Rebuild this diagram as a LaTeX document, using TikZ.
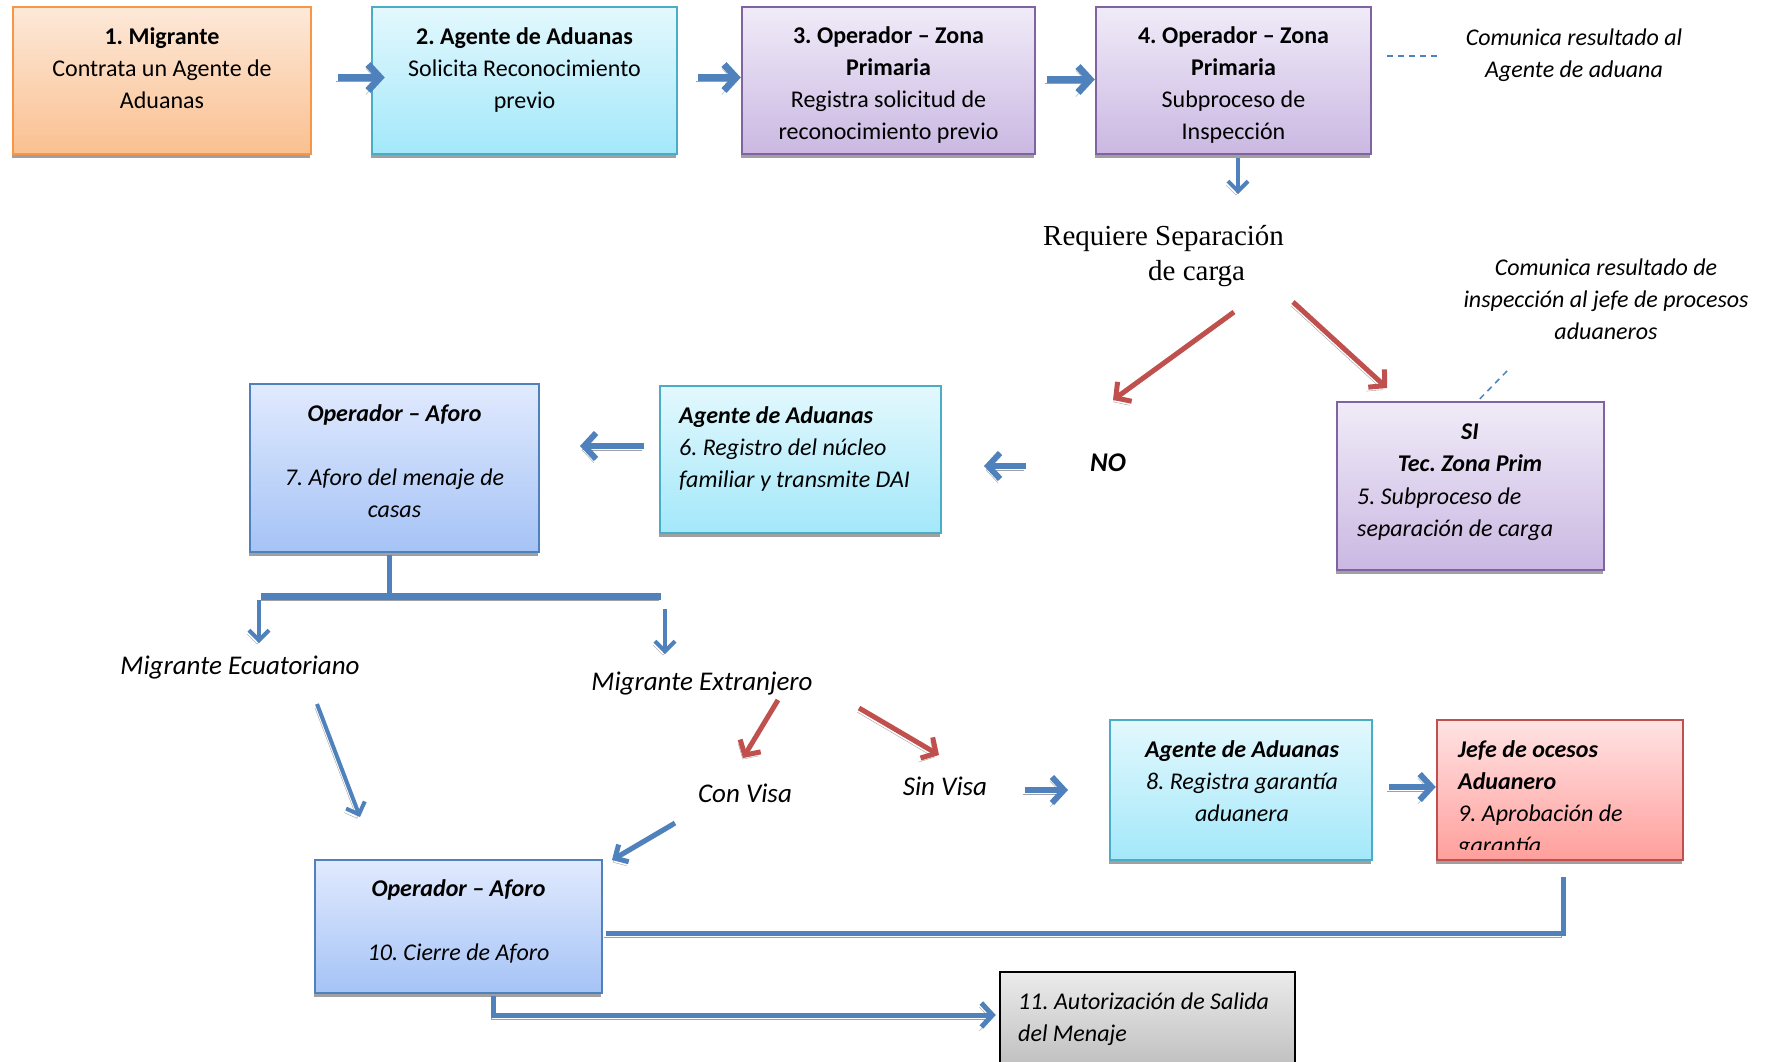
\documentclass[tikz,border=0pt]{standalone}
\usepackage{fontspec}
\setmainfont{Carlito}
\newfontfamily\timesfont{Liberation Serif}
\usetikzlibrary{arrows.meta,shadows,calc}
\frenchspacing
\definecolor{obord}{HTML}{F79646}\definecolor{otop}{HTML}{FDE9D9}\definecolor{obot}{HTML}{FAC090}
\definecolor{cbord}{HTML}{4BACC6}\definecolor{ctop}{HTML}{E3F8FD}\definecolor{cbot}{HTML}{A3E8FA}
\definecolor{pbord}{HTML}{8064A2}\definecolor{ptop}{HTML}{F0EBF8}\definecolor{pbot}{HTML}{CAB8E2}
\definecolor{bbord}{HTML}{4F81BD}\definecolor{btop}{HTML}{E1EAFE}\definecolor{bbot}{HTML}{A5C3F6}
\definecolor{rbord}{HTML}{C0504D}\definecolor{rtop}{HTML}{FFE3E3}\definecolor{rbot}{HTML}{FF9F9C}
\definecolor{gtop}{HTML}{EBEBEB}\definecolor{gbot}{HTML}{BEBEBE}
\definecolor{ablue}{HTML}{4F81BD}\definecolor{ared}{HTML}{C0504D}\definecolor{shadowgray}{HTML}{A0A0A0}
\tikzset{
 box/.style={rectangle, draw, line width=2.5pt, inner sep=0pt,
   drop shadow={shadow xshift=-1pt, shadow yshift=-4pt, fill=shadowgray, opacity=1}},
 obox/.style={box, draw=obord, top color=otop, bottom color=obot},
 cbox/.style={box, draw=cbord, top color=ctop, bottom color=cbot},
 pbox/.style={box, draw=pbord, top color=ptop, bottom color=pbot},
 bbox/.style={box, draw=bbord, top color=btop, bottom color=bbot},
 rbox/.style={box, draw=rbord, top color=rtop, bottom color=rbot},
 gbox/.style={box, draw=black, top color=gtop, bottom color=gbot},
 txt/.style={inner sep=0pt, align=center, font=\fontsize{24}{32}\selectfont},
 ltxt/.style={txt, align=left},
 itxt/.style={txt, font=\fontsize{24}{32}\selectfont\itshape},
 lbl/.style={txt, font=\fontsize{27}{34}\selectfont\itshape},
 shd/.style={preaction={draw=shadowgray, transform canvas={xshift=-2pt,yshift=-4pt}}},
 bigarrow/.style={shd, draw=ablue, line width=7pt, -{Straight Barb[length=12pt,width=26pt]}},
 thinarrow/.style={shd, draw=ablue, line width=4pt, -{Straight Barb[length=10pt,width=20pt]}},
 redarrow/.style={shd, draw=ared, line width=5pt, -{Straight Barb[length=11pt,width=24pt]}},
 conn/.style={shd, draw=ablue, line width=6pt},
 dashln/.style={draw=ablue, line width=1.5pt, dash pattern=on 6pt off 5pt},
}
\begin{document}
\begin{tikzpicture}[x=1pt,y=-1pt]
\useasboundingbox (0,0) rectangle (1765,1061);
% boxes
\node[obox, minimum width=298pt, minimum height=147pt] (b1) at (162,80.5) {};
\node[cbox, minimum width=305pt, minimum height=147pt] (b2) at (524.5,80.5) {};
\node[pbox, minimum width=293pt, minimum height=147pt] (b3) at (888.5,80.5) {};
\node[pbox, minimum width=275pt, minimum height=147pt] (b4) at (1233.5,80.5) {};
\node[pbox, minimum width=267pt, minimum height=168pt] (b5) at (1470.5,486) {};
\node[cbox, minimum width=281pt, minimum height=147pt] (b6) at (800.5,459.5) {};
\node[bbox, minimum width=289pt, minimum height=168pt] (b7) at (394.5,468) {};
\node[cbox, minimum width=262pt, minimum height=140pt] (b8) at (1241,790) {};
\node[rbox, minimum width=246pt, minimum height=140pt] (b9) at (1560,790) {};
\node[bbox, minimum width=287pt, minimum height=133pt] (b10) at (458.5,926.5) {};
\node[gbox, minimum width=295pt, minimum height=98pt] (b11) at (1147.5,1021) {};
% box texts
\node[txt] (t1) at (162,68) {\textbf{1. Migrante}\\Contrata un Agente de\\Aduanas};
\node[txt] (t2) at (524.5,70) {\textbf{2. Agente de Aduanas}\\Solicita Reconocimiento\\previo};
\node[txt] (t3) at (888.5,85) {\textbf{3. Operador – Zona}\\\textbf{Primaria}\\Registra solicitud de\\reconocimiento previo};
\node[txt] (t4) at (1233.5,85) {\textbf{4. Operador – Zona}\\\textbf{Primaria}\\Subproceso de\\Inspección};
\node[itxt] (t5a) at (1470,448) {\textbf{SI}\\\textbf{Tec. Zona Prim}};
\node[itxt, align=left, anchor=west] (t5b) at (1357,514) {5. Subproceso de\\separación de carga};
\node[itxt, align=left, anchor=west] (t6) at (679,449) {\textbf{Agente de Aduanas}\\6. Registro del núcleo\\familiar y transmite DAI};
\node[itxt] (t7) at (394.5,461) {\textbf{Operador – Aforo}\\[32pt]7. Aforo del menaje de\\casas};
\node[itxt] (t8) at (1242,781) {\textbf{Agente de Aduanas}\\8. Registra garantía\\aduanera};
\begin{scope}
\clip (1440,722) rectangle (1680,849);
\node[itxt, align=left, anchor=west] (t9) at (1458,799.5) {\textbf{Jefe de ocesos}\\\textbf{Aduanero}\\9. Aprobación de\\garantía};
\end{scope}
\node[itxt] (t10) at (458.5,921) {\textbf{Operador – Aforo}\\[32pt]10. Cierre de Aforo};
\node[itxt, align=left, anchor=west] (t11) at (1018,1019.5) {11. Autorización de Salida\\del Menaje};
% free labels
\node[itxt] (comm1) at (1574,55.5) {Comunica resultado al\\Agente de aduana};
\node[itxt] (comm2) at (1606,299) {Comunica resultado de\\inspección al jefe de procesos\\aduaneros};
\node[inner sep=0pt, align=left, anchor=north west, font=\fontsize{29}{35}\selectfont\timesfont] (req) at (1043,225) {Requiere Separación\\\hspace*{105pt}de carga};
\node[lbl] (no) at (1108,463) {\textbf{NO}};
\node[lbl] (migec) at (240,668) {Migrante Ecuatoriano};
\node[lbl] (migex) at (702,684) {Migrante Extranjero};
\node[lbl] (conv) at (745,793) {Con Visa};
\node[lbl] (sinv) at (945,786) {Sin Visa};
% coordinates for free ends
\coordinate (d1a) at (1387,56); \coordinate (d1b) at (1437,56);
\coordinate (d2a) at (1507,371);
\coordinate (reqtop) at (1238,194);
\coordinate (rl1) at (1234,312); \coordinate (rl2) at (1113,400);
\coordinate (rr1) at (1293,302); \coordinate (rr2) at (1387,388);
\coordinate (no1) at (1026,466); \coordinate (no2) at (984,466);
\coordinate (s6a) at (644,446); \coordinate (s6b) at (580,446);
\coordinate (bar0) at (389,597); \coordinate (barl) at (261,596); \coordinate (barr) at (661,596);
\coordinate (ec1) at (259,600); \coordinate (ec2) at (259,643);
\coordinate (ex1) at (665,609); \coordinate (ex2) at (665,654);
\coordinate (ed1) at (317,704); \coordinate (ed2) at (360,817);
\coordinate (cv1) at (778,700); \coordinate (cv2) at (743,758);
\coordinate (sv1) at (859,708); \coordinate (sv2) at (939,755);
\coordinate (cb1) at (675,823); \coordinate (cb2) at (612,860);
\coordinate (sb1) at (1025,790); \coordinate (sb2) at (1068,790);
\coordinate (b9a) at (1563,877); \coordinate (b9b) at (606,933);
% connectors
\draw[bigarrow] ($(b1.east)+(26,-3)$) -- ($(b2.west)+(14,-3)$);
\draw[bigarrow] ($(b2.east)+(20,-3)$) -- ($(b3.west)+(0,-3)$);
\draw[bigarrow] ($(b3.east)+(11,-1)$) -- ($(b4.west)+(0,-1)$);
\draw[thinarrow] ($(b4.south)+(4.5,3)$) -- (reqtop);
\draw[dashln] (d1a) -- (d1b);
\draw[dashln] (d2a) -- ($(b5.north)+(7.5,0)$);
\draw[redarrow] (rl1) -- (rl2);
\draw[redarrow] (rr1) -- (rr2);
\draw[bigarrow, line width=6pt] (no1) -- (no2);
\draw[bigarrow, line width=6pt] (s6a) -- (s6b);
\draw[conn, line width=5pt] ($(b7.south)+(-5.5,2)$) -- (bar0);
\draw[conn, line width=7pt] (barl) -- (barr);
\draw[thinarrow] (ec1) -- (ec2);
\draw[thinarrow] (ex1) -- (ex2);
\draw[thinarrow] (ed1) -- (ed2);
\draw[redarrow] (cv1) -- (cv2);
\draw[redarrow] (sv1) -- (sv2);
\draw[thinarrow, line width=5pt] (cb1) -- (cb2);
\draw[bigarrow, line width=6pt] (sb1) -- (sb2);
\draw[bigarrow, line width=6pt] ($(b8.east)+(16,-3)$) -- ($(b9.west)+(0,-3)$);
\draw[conn, line width=5pt] (b9a) |- (b9b);
\draw[conn, line width=5pt, -{Straight Barb[length=11pt,width=24pt]}] ($(b10.south)+(34.5,2)$) |- ($(b11.west)+(-3,-6)$);
\end{tikzpicture}
\end{document}
